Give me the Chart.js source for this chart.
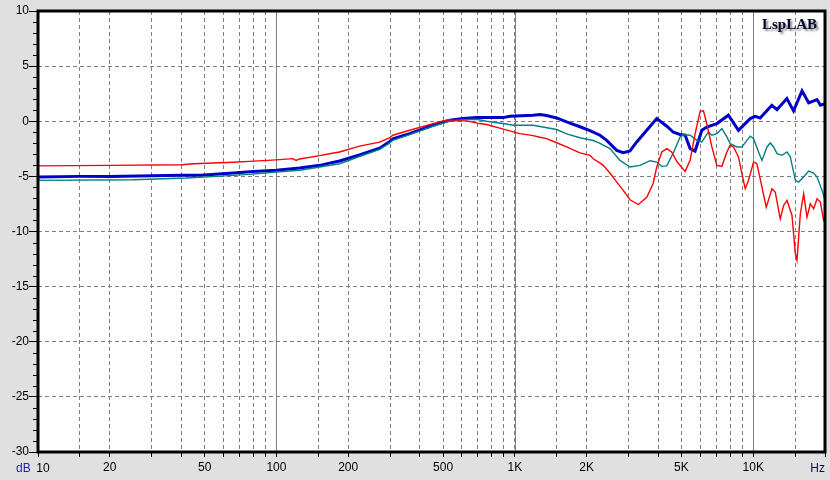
<!DOCTYPE html>
<html><head><meta charset="utf-8">
<script src="https://cdn.jsdelivr.net/npm/chart.js@4.4.0/dist/chart.umd.min.js"></script>
<style>
html,body{margin:0;padding:0;background:#e0e0e0;}
#wrap{position:relative;width:830px;height:480px;}
</style></head><body>
<div id="wrap"><canvas id="c" width="830" height="480"></canvas></div>
<script>
// ---- data (frequency in Hz, level in dB) ----
const blueFreq = [10,15,20,30,40,48,66,80,100,125,152,167,184,223,271,298,308,329,362,454,533,607,690,893,953,1194,1274,1359,1497,1649,1876,2066,2276,2428,2675,2851,3041,3246,3576,3939,4340,4626,4935,5179,5437,5702,6088,6384,7039,7870,8670,9714,10186,10690,11970,12580,13840,14760,16020,17080,18520,19140,20000];
const blueDb = [-5.05,-5.0,-5.0,-4.95,-4.9,-4.9,-4.7,-4.55,-4.45,-4.25,-4.0,-3.8,-3.6,-3.05,-2.45,-1.85,-1.6,-1.4,-1.12,-0.36,0.09,0.24,0.33,0.33,0.45,0.55,0.62,0.52,0.3,-0.06,-0.5,-0.85,-1.27,-1.73,-2.64,-2.85,-2.7,-1.88,-0.82,0.24,-0.45,-1.0,-1.2,-1.25,-2.48,-2.7,-0.82,-0.52,-0.21,0.55,-0.82,0.24,0.45,0.3,1.45,1.06,2.06,0.94,2.76,1.67,1.97,1.45,1.6];

const tealFreq = [10,25,42,56,77,100,125,152,184,223,271,298,308,362,454,533,607,690,760,893,984,1194,1497,1649,1876,2133,2276,2507,2762,3041,3352,3691,3939,4134,4340,4626,4935,5095,5437,5800,6088,6490,6707,7039,7387,7752,8005,8540,8964,9408,9714,10030,10530,10880,11420,11790,12170,12580,13200,13860,14310,15020,15500,16270,17080,17920,18520,19440,20000];
const tealDb = [-5.36,-5.3,-5.15,-5.0,-4.82,-4.6,-4.45,-4.15,-3.85,-3.2,-2.55,-2.0,-1.73,-1.21,-0.45,0.03,0.15,0.18,0.0,-0.21,-0.36,-0.36,-0.75,-1.15,-1.5,-1.75,-2.0,-2.48,-3.55,-4.15,-4.0,-3.58,-3.7,-4.09,-4.05,-2.85,-1.42,-1.21,-1.27,-1.73,-1.88,-0.97,-1.27,-1.12,-0.67,-1.42,-2.03,-2.33,-2.33,-1.73,-1.36,-1.58,-2.79,-3.55,-2.33,-1.97,-2.33,-2.94,-3.09,-2.79,-3.24,-5.36,-5.52,-5.06,-4.52,-4.7,-5.06,-6.27,-7.18];

const redFreq = [10,20,40,45,66,77,100,117,121,125,152,167,184,223,271,298,308,362,454,500,533,569,627,713,760,865,985,1050,1194,1274,1359,1497,1649,1876,2066,2133,2280,2350,2520,2677,2851,3041,3297,3576,3800,3939,4134,4340,4545,4800,5179,5437,5705,5988,6183,6384,6707,7039,7387,7752,8005,8266,8675,8964,9256,9556,10030,10360,10880,11340,11980,12370,12980,13410,13860,14540,15020,15260,15760,16270,16810,17360,17920,18520,19120,19740,20000];
const redDb = [-4.05,-4.0,-3.95,-3.85,-3.72,-3.64,-3.5,-3.39,-3.55,-3.42,-3.12,-2.95,-2.79,-2.25,-1.9,-1.5,-1.27,-0.82,-0.21,0.03,0.15,0.03,0.03,-0.21,-0.3,-0.62,-0.97,-1.12,-1.3,-1.45,-1.58,-1.95,-2.33,-2.87,-3.09,-3.4,-3.8,-4.0,-4.76,-5.52,-6.27,-7.12,-7.55,-6.9,-5.67,-4.15,-2.79,-2.48,-2.79,-3.7,-4.55,-3.55,-1.12,0.9,0.94,-0.21,-2.33,-4.0,-4.09,-2.79,-2.18,-2.33,-3.24,-4.76,-6.12,-5.36,-3.7,-3.85,-5.97,-7.79,-6.12,-6.42,-8.85,-7.64,-7.18,-8.55,-12.03,-12.6,-8.39,-6.58,-8.7,-7.48,-7.94,-7.03,-7.33,-9.0,-8.85];

// ---- axes ----
const gridFreqs = [10,15,20,30,40,50,60,70,80,90,100,150,200,300,400,500,600,700,800,900,1000,1500,2000,3000,4000,5000,6000,7000,8000,9000,10000,15000,20000];
const decadeFreqs = [100,1000,10000];
const xTickValues = [20,50,100,200,500,1000,2000,5000,10000];
const xTickLabels = ['20','50','100','200','500','1K','2K','5K','10K'];
const firstXLabel = '10';
const xUnit = 'Hz';
const yUnit = 'dB';
const yTicks = [10,5,0,-5,-10,-15,-20,-25,-30];
const logoText = 'LspLAB';

const FONT = '"Liberation Sans", Arial, sans-serif';

function pts(f, d){ return f.map((v,i)=>({x:v, y:d[i]})); }

const deco = {
  id:'deco',
  beforeDraw(chart){
    const {ctx, chartArea:a} = chart;
    ctx.save();
    ctx.fillStyle='#e0e0e0'; ctx.fillRect(0,0,chart.width,chart.height);
    ctx.fillStyle='#ffffff'; ctx.fillRect(a.left,a.top,a.right-a.left,a.bottom-a.top);
    ctx.restore();
  },
  beforeDatasetsDraw(chart){
    const {ctx, chartArea:a, scales:{x}} = chart;
    ctx.save();
    ctx.strokeStyle='#808080'; ctx.lineWidth=1;
    decadeFreqs.forEach(f=>{
      const px = Math.round(x.getPixelForValue(f))+0.5;
      ctx.beginPath(); ctx.moveTo(px,a.top); ctx.lineTo(px,a.bottom); ctx.stroke();
    });
    ctx.restore();
  },
  afterDatasetsDraw(chart){
    const {ctx, chartArea:a, scales:{x,y}} = chart;
    ctx.save();
    // frame
    ctx.strokeStyle='#000'; ctx.lineWidth=3;
    ctx.strokeRect(a.left,a.top,a.right-a.left,a.bottom-a.top);
    // minor y ticks every 1 dB
    ctx.lineWidth=1;
    for(let v=-30; v<=10; v++){
      if(v%5===0) continue;
      const py = Math.round(y.getPixelForValue(v))+0.5;
      ctx.beginPath(); ctx.moveTo(a.left-5,py); ctx.lineTo(a.left,py); ctx.stroke();
    }
    // labels
    ctx.font = '12px '+FONT;
    ctx.textBaseline='middle';
    ctx.textAlign='center';
    ctx.fillStyle='#000';
    ctx.fillText(firstXLabel, x.getPixelForValue(10)+5, 469);
    ctx.textAlign='right';
    ctx.fillStyle='#101040';
    ctx.fillText(xUnit, a.right, 469);
    ctx.textAlign='left';
    ctx.fillStyle='#1a1ad0';
    ctx.fillText(yUnit, 16, 469);
    // logo
    ctx.font='bold 15px "Liberation Serif", "Times New Roman", serif';
    ctx.textAlign='left'; ctx.textBaseline='alphabetic';
    ctx.shadowColor='rgba(0,0,0,0.45)'; ctx.shadowOffsetX=2; ctx.shadowOffsetY=2; ctx.shadowBlur=2;
    ctx.fillStyle='#0a0a30';
    ctx.fillText(logoText, 762, 29);
    ctx.restore();
  }
};

new Chart(document.getElementById('c'), {
  type:'line',
  data:{
    datasets:[
      {data:pts(redFreq,redDb), borderColor:'#ff0000', borderWidth:1.4, pointRadius:0, tension:0},
      {data:pts(tealFreq,tealDb), borderColor:'#008080', borderWidth:1.4, pointRadius:0, tension:0},
      {data:pts(blueFreq,blueDb), borderColor:'#0000c8', borderWidth:3, pointRadius:0, tension:0}
    ]
  },
  options:{
    responsive:false, animation:false, parsing:true,
    layout:{padding:{top:11,right:5,left:0,bottom:0}},
    plugins:{legend:{display:false}, tooltip:{enabled:false}},
    scales:{
      x:{
        type:'logarithmic', min:10, max:20000, position:'bottom',
        afterBuildTicks:s=>{ s.ticks = gridFreqs.map(v=>({value:v})); },
        afterFit:s=>{ s.height=28; s.paddingLeft=0; s.paddingRight=0; },
        ticks:{autoSkip:false, maxRotation:0, minRotation:0, color:'#000', padding:3,
          font:{family:FONT, size:12},
          callback:(v)=>{ const i = xTickValues.indexOf(v); return i>=0 ? xTickLabels[i] : ''; }},
        grid:{color:'#808080', lineWidth:1, drawTicks:true, tickLength:5, tickColor:'#000', tickWidth:1},
        border:{display:false, dash:[4,3]}
      },
      y:{
        min:-30, max:10,
        afterBuildTicks:s=>{ s.ticks = yTicks.map(v=>({value:v})); },
        afterFit:s=>{ s.width=38; },
        ticks:{color:'#000', padding:0, font:{family:FONT, size:12}, callback:v=>String(v)},
        grid:{color:'#808080', lineWidth:1, drawTicks:true, tickLength:9, tickColor:'#000', tickWidth:1},
        border:{display:false, dash:[4,3]}
      }
    }
  },
  plugins:[deco]
});
</script>
</body></html>
